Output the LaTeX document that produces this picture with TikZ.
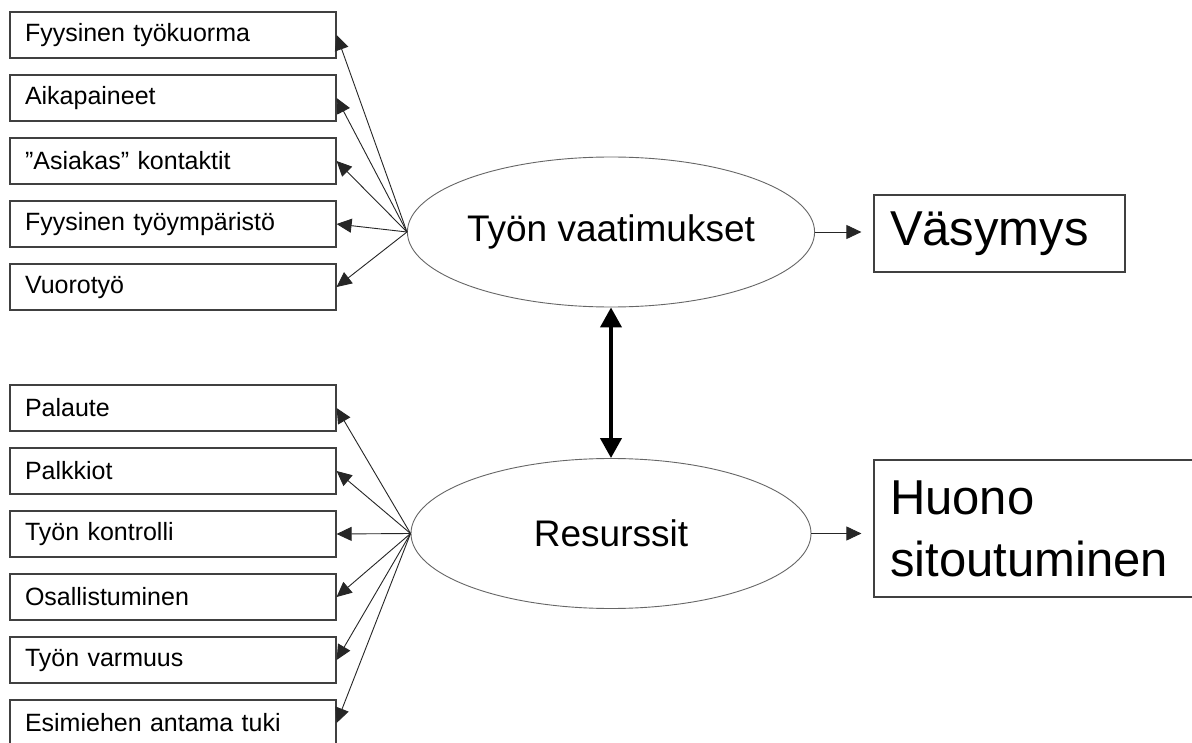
\documentclass[tikz,border=0pt]{standalone}
\usepackage{fontspec}
\setmainfont{Liberation Sans}
\usetikzlibrary{shapes.geometric,arrows.meta}
\begin{document}
\begin{tikzpicture}[x=1pt,y=-1pt,node distance=63pt,
  tekija/.style={draw=black!75,line width=1.2pt,minimum height=46pt,text width=296pt,inner xsep=15pt,align=left,font=\fontsize{25}{29}\selectfont},
  tila/.style={ellipse,draw=black!60,line width=0.9pt,inner sep=0pt,minimum width=400pt,minimum height=150pt,font=\fontsize{37}{44}\selectfont},
  tulos/.style={draw=black!75,line width=1.2pt,inner xsep=16pt,align=left,font=\fontsize{49}{62}\selectfont},
  nuoli/.style={draw=black!85,line width=0.9pt,-{Triangle[length=15pt,width=14pt]}}]
    \path[fill=white,use as bounding box] (0,0) rectangle (1192,743);
    \node[tekija] (d1) at (173,35) {Fyysinen työkuorma};
    \node[tekija,below of=d1] (d2) {Aikapaineet};
    \node[tekija,below of=d2] (d3) {”Asiakas” kontaktit};
    \node[tekija,below of=d3] (d4) {Fyysinen työympäristö};
    \node[tekija,below of=d4] (d5) {Vuorotyö};
    \node[tekija] (r1) at (173,408) {Palaute};
    \node[tekija,below of=r1] (r2) {Palkkiot};
    \node[tekija,below of=r2] (r3) {Työn kontrolli};
    \node[tekija,below of=r3] (r4) {Osallistuminen};
    \node[tekija,below of=r4] (r5) {Työn varmuus};
    \node[tekija,below of=r5] (r6) {Esimiehen antama tuki};
    \node[tila] (vaat) at (611,232) {Työn vaatimukset};
    \node[tila] (res) at (611,533.5) {Resurssit};
    \node[tulos,text width=219pt,minimum height=77pt] (vas) at (999.5,233.5) {Väsymys};
    \node[tulos,text width=308pt,minimum height=137pt] (huono) at (1044,528.5) {Huono\\sitoutuminen};
    \foreach \i in {1,...,5} \draw[nuoli] (vaat.west) -- (d\i.east);
    \foreach \i in {1,...,6} \draw[nuoli] (res.west) -- (r\i.east);
    \draw[nuoli,shorten >=12pt] (vaat.east) -- (vaat.east -| vas.west);
    \draw[nuoli,shorten >=12pt] (res.east) -- (res.east -| huono.west);
    \draw[line width=4pt,{Triangle[length=20pt,width=21pt]}-{Triangle[length=20pt,width=21pt]}] (vaat.south) -- (res.north);
\end{tikzpicture}
\end{document}
